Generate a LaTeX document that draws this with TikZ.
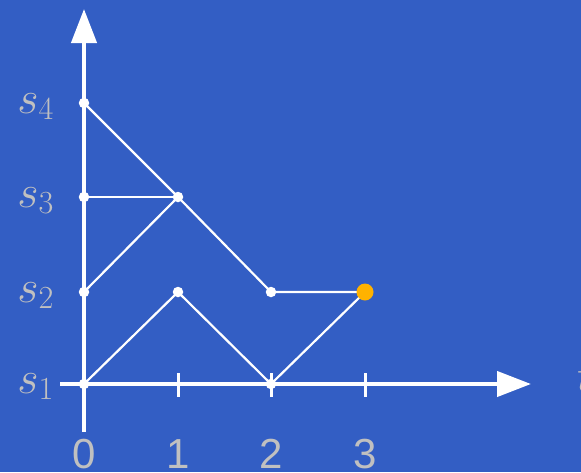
\RequirePackage{fix-cm}
\documentclass[tikz,border=0pt]{standalone}
\usepackage{fontspec}
\newfontfamily\digitfont{Liberation Sans}
\usetikzlibrary{arrows.meta}
\definecolor{bgblue}{RGB}{51,94,196}
\definecolor{labgray}{RGB}{192,192,192}
\definecolor{dotorange}{RGB}{255,178,0}
\tikzset{
  axisline/.style={white,line width=4.2pt,-{Triangle[length=34pt,width=25pt]}},
  tickline/.style={white,line width=3pt},
  edge/.style={white,line width=2.2pt},
  wdot/.style={circle,fill=white,inner sep=0pt,minimum size=10.5pt},
  odot/.style={circle,fill=dotorange,inner sep=0pt,minimum size=17pt},
  slab/.style={text=labgray,inner sep=0pt,anchor=base east,font=\fontsize{46}{55}\selectfont},
  tlab/.style={text=labgray,inner sep=0pt,anchor=base,font=\fontsize{42}{50}\selectfont\digitfont},
}
\begin{document}
\begin{tikzpicture}[x=1pt,y=-1pt]
\fill[bgblue] (0,0) rectangle (581,472);
\useasboundingbox (0,0) rectangle (581,472);
% axes
\coordinate (xs) at (60,384);
\coordinate (xe) at (531,384);
\coordinate (ys) at (84,432);
\coordinate (ye) at (84,9);
\draw[axisline] (xs) -- (xe);
\draw[axisline] (ys) -- (ye);
% ticks
\foreach \x/\n in {178/1,271/2,365/3}{
  \coordinate (tt\n) at (\x,373);
  \coordinate (tb\n) at (\x,397);
  \draw[tickline] (tt\n) -- (tb\n);
}
% labels
\node[slab] (l4) at (54,113) {$s_4$};
\node[slab] (l3) at (54,207) {$s_3$};
\node[slab] (l2) at (54,302) {$s_2$};
\node[slab] (l1) at (54,393) {$s_1$};
\node[tlab] (n0) at (84,468) {0};
\node[tlab] (n1) at (178,468) {1};
\node[tlab] (n2) at (271,468) {2};
\node[tlab] (n3) at (365,468) {3};
\node[text=labgray,inner sep=0pt,anchor=base west,font=\fontsize{46}{55}\selectfont] (tl) at (577,391) {$t$};
% dots
\node[wdot] (a4) at (84,103) {};
\node[wdot] (a3) at (84,197) {};
\node[wdot] (a2) at (84,292) {};
\node[wdot] (a1) at (84,384) {};
\node[wdot] (b3) at (178,197) {};
\node[wdot] (b2) at (178,292) {};
\node[wdot] (c2) at (271,292) {};
\node[wdot] (c1) at (271,384) {};
% edges
\draw[edge] (a4.center) -- (b3.center) -- (c2.center) -- (365,292);
\draw[edge] (a3.center) -- (b3.center);
\draw[edge] (a2.center) -- (b3.center);
\draw[edge] (a1.center) -- (b2.center) -- (c1.center) -- (365,292);
\node[odot] (d2) at (365,292) {};
\end{tikzpicture}
\end{document}
